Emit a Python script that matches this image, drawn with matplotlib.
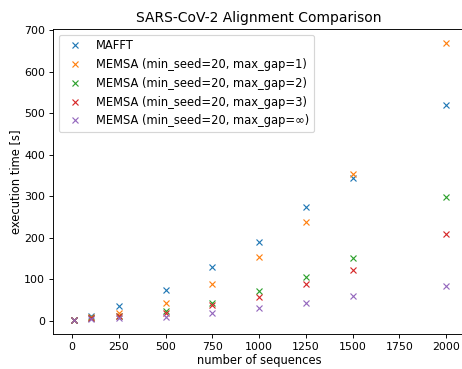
import matplotlib
matplotlib.use("Agg")
import matplotlib.pyplot as plt

n_sequences = [10, 100, 250, 500, 750, 1000, 1250, 1500, 2000]
mafft = [1, 12, 35, 74, 129, 189, 274, 345, 521]
memsa_gap1 = [1, 8, 18, 43, 88, 153, 238, 353, 670]
memsa_gap2 = [1, 7, 12, 23, 42, 72, 106, 151, 298]
memsa_gap3 = [1, 6, 11, 19, 37, 57, 88, 122, 210]
memsa_gapinf = [1, 3, 5, 8, 19, 31, 43, 60, 84]

labels = [
    "MAFFT",
    "MEMSA (min_seed=20, max_gap=1)",
    "MEMSA (min_seed=20, max_gap=2)",
    "MEMSA (min_seed=20, max_gap=3)",
    "MEMSA (min_seed=20, max_gap=\u221e)",
]
series = [mafft, memsa_gap1, memsa_gap2, memsa_gap3, memsa_gapinf]

DPI = 83
fig = plt.figure(figsize=(462 / DPI, 369 / DPI), dpi=DPI)
ax = fig.add_axes([53.3 / 462, (369 - 334) / 369, 411.4 / 462, 305 / 369])
for vals, lab in zip(series, labels):
    ax.plot(n_sequences, vals, "x", linestyle="none", label=lab)

ax.set_xticks([0, 250, 500, 750, 1000, 1250, 1500, 1750, 2000])
ax.set_xlim(-100, 2100)
ax.spines["right"].set_visible(False)
ax.tick_params(labelsize=9.5)
ax.set_title("SARS-CoV-2 Alignment Comparison")
ax.set_xlabel("number of sequences", labelpad=1.5)
ax.set_ylabel("execution time [s]", labelpad=2)
ax.legend(loc="upper left")
fig.savefig("out.png", dpi=DPI)
